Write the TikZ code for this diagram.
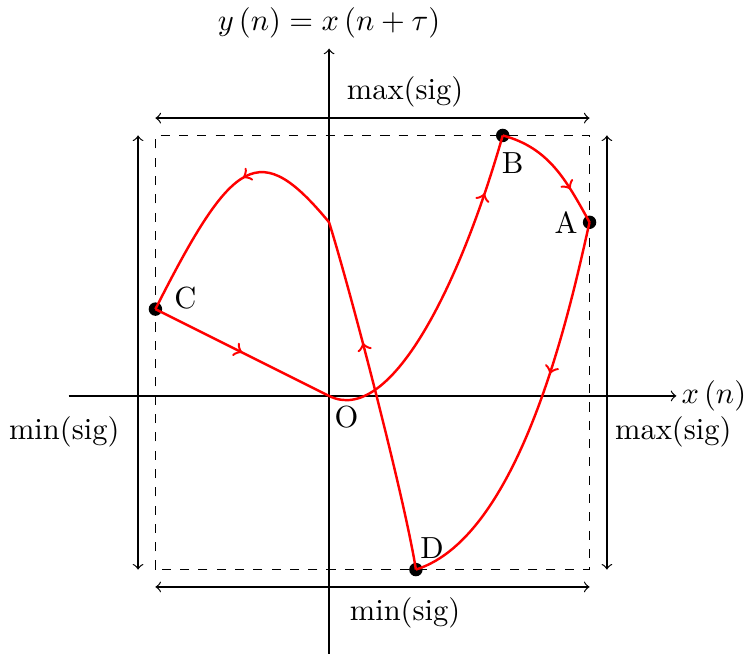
\documentclass[tikz,border=0pt]{standalone}
\usetikzlibrary{positioning,decorations.markings}
\tikzset{
  axis/.style={->, black},
  span/.style={<->, black},
  frame/.style={dashed, black},
  orbit/.style={red, thick},
  pt/.style={circle, fill=black, inner sep=0pt, minimum size=4.4pt},
  midtip/.style={postaction={decorate}, decoration={markings, mark=at position #1 with {\arrow{>}}}}
}
\begin{document}
\begin{tikzpicture}[x=0.5cm, y=0.5cm]
  \useasboundingbox (-7.58,-5.94) rectangle (9.65,9.12);

  % axes
  \coordinate (xl) at (-6,0);
  \coordinate (xr) at (8,0);
  \coordinate (yb) at (0,-6);
  \coordinate (yt) at (0,8);
  \draw[axis] (xl) -- (xr) node[right, inner sep=1.5pt] (xlab) {$x\left(n\right)$};
  \draw[axis] (yb) -- (yt) node[above] (ylab) {$y\left(n\right)=x\left(n+\tau\right)$};

  % range of the signal
  \coordinate (sw) at (-4,-4);
  \coordinate (ne) at (6,6);
  \draw[frame] (sw) rectangle (ne);
  \coordinate (tl) at (-4,6.4);  \coordinate (tr) at (6,6.4);
  \coordinate (bl) at (-4,-4.4); \coordinate (br) at (6,-4.4);
  \coordinate (lb) at (-4.4,-4); \coordinate (lt) at (-4.4,6);
  \coordinate (rb) at (6.4,-4);  \coordinate (rt) at (6.4,6);
  \draw[span] (tl) -- (tr);
  \draw[span] (bl) -- (br);
  \draw[span] (lb) -- (lt);
  \draw[span] (rb) -- (rt);
  \node[above] (maxtop) at (1.75,6.4) {max(sig)};
  \node[below] (minbot) at (1.75,-4.4) {min(sig)};
  \node (minleft) at (-6.1,-0.83) {min(sig)};
  \node (maxright) at (7.93,-0.83) {max(sig)};

  % points of the loop
  \node[pt] (A) at (6,4) {};
  \node[pt] (B) at (4,6) {};
  \node[pt] (C) at (-4,2) {};
  \node[pt] (D) at (2,-4) {};
  \coordinate (O) at (0,0);
  \coordinate (E) at (0,4);

  \draw[orbit, midtip=0.5] (C.center) -- (O);
  \draw[orbit, midtip=0.82] (O) .. controls (1.4,-0.7) and (3.0,2.5) .. (B.center);
  \draw[orbit, midtip=0.7] (B.center) to[out=-15, in=119] (A.center);
  \draw[orbit, midtip=0.39] (A.center) .. controls (5.6,2.25) and (4.47,-3.22) .. (D.center);
  \draw[orbit, midtip=0.65] (D.center) .. controls (1.75,-2.4) and (0.5,2.4) .. (E);
  \draw[orbit, midtip=0.4] (E) .. controls (-1.6,5.93) and (-2.2,5.56) .. (C.center);

  \node (Alab) at (5.46,4.0) {A};
  \node (Blab) at (4.23,5.37) {B};
  \node (Clab) at (-3.31,2.26) {C};
  \node (Dlab) at (2.37,-3.5) {D};
  \node (Olab) at (0.4,-0.48) {O};
\end{tikzpicture}
\end{document}
